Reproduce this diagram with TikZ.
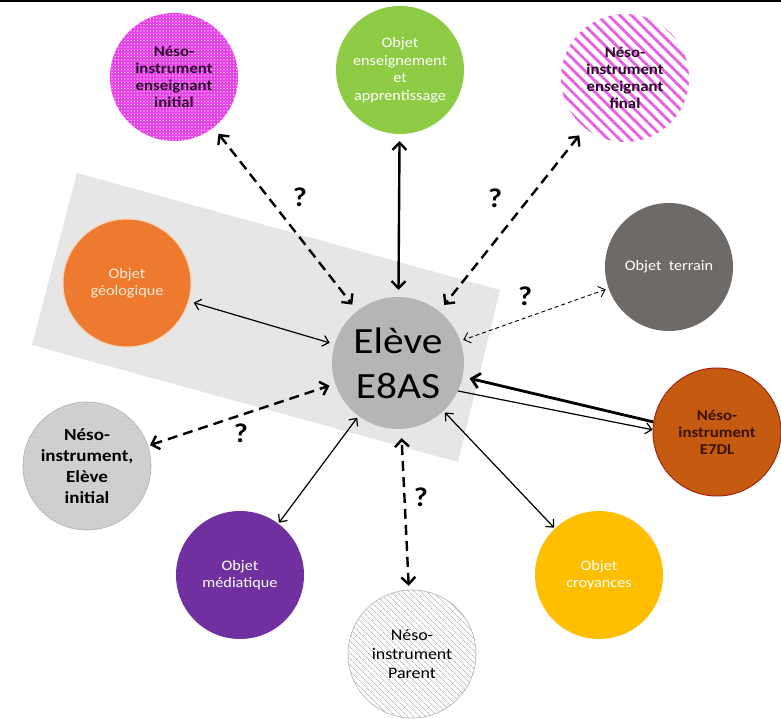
\documentclass[tikz,border=0pt]{standalone}
\usepackage{fontspec}
\setmainfont{Carlito}[FakeStretch=1.12]
\usetikzlibrary{arrows.meta,patterns.meta}
\definecolor{bandgray}{HTML}{E6E6E6}
\definecolor{cmag}{HTML}{E840E8}
\definecolor{cpink}{HTML}{E860E0}
\definecolor{cgreen}{HTML}{8FCC45}
\definecolor{corange}{HTML}{EE7A30}
\definecolor{corangeb}{HTML}{FAD2B0}
\definecolor{cgeotext}{HTML}{FDEBD8}
\definecolor{cterrain}{HTML}{6E6A68}
\definecolor{celeve}{HTML}{B7B5B4}
\definecolor{cinit}{HTML}{D8D8D8}
\definecolor{cedl}{HTML}{C55A11}
\definecolor{cedlb}{HTML}{A3260C}
\definecolor{cedltext}{HTML}{3A1200}
\definecolor{cpurple}{HTML}{7030A0}
\definecolor{cgold}{HTML}{FFBE00}
\definecolor{cdarkmag}{HTML}{2A0A2A}
\begin{document}
\begin{tikzpicture}[x=1pt,y=-1pt,
  circ/.style={circle,minimum size=128pt,inner sep=0pt,align=center,
    font=\fontsize{14.5}{17.5}\selectfont},
  thickdash/.style={line width=2.4pt,dash pattern=on 10pt off 6pt,
    {Straight Barb[length=7pt,width=14pt]}-{Straight Barb[length=7pt,width=14pt]}},
  thicksolid/.style={line width=2.4pt,
    {Straight Barb[length=7pt,width=14pt]}-{Straight Barb[length=7pt,width=14pt]}},
  thinsolid/.style={line width=1.2pt,
    {Straight Barb[length=6pt,width=11pt]}-{Straight Barb[length=6pt,width=11pt]}},
  thindash/.style={line width=0.9pt,dash pattern=on 4pt off 3pt,
    {Straight Barb[length=6pt,width=11pt]}-{Straight Barb[length=6pt,width=11pt]}},
  qm/.style={font=\fontsize{27}{30}\bfseries\selectfont,inner sep=0pt}]
\useasboundingbox (0,0) rectangle (781,719);
\fill[white] (0,0) rectangle (781,719);
\draw[line width=2pt] (0,1) -- (781,1);
% grey band
\fill[bandgray] (77,173) -- (500,290) -- (458,462) -- (32,345) -- cycle;
% circles
\node[circ,preaction={fill=cmag},pattern={Dots[distance=3.2pt,radius=0.75pt]},pattern color=white!80!cmag,
  font=\fontsize{15}{17}\bfseries\selectfont,text=cdarkmag] (ini) at (174,77)
  {Néso-\\instrument\\enseignant\\initial};
\node[circ,fill=cgreen,text=white] (ens) at (400,70)
  {Objet\\enseignement\\et\\apprentissage};
\node[circ,preaction={fill=white},pattern={Lines[angle=-45,distance=8pt,line width=2.8pt]},pattern color=cpink,
  font=\fontsize{15}{17}\bfseries\selectfont,text=cdarkmag] (fin) at (625,78)
  {Néso-\\instrument\\enseignant\\final};
\node[circ,fill=corange,draw=corangeb,line width=1pt,text=cgeotext] (geo) at (127,283)
  {Objet\\géologique};
\node[circ,fill=cterrain,text=white] (ter) at (669,267) {Objet~~terrain};
\node[circ,fill=celeve,minimum size=132pt,font=\fontsize{37}{45}\selectfont] (elv) at (398,363)
  {Elève\\E8AS};
\node[circ,preaction={fill=cinit},pattern={Dots[distance=2pt,radius=0.5pt]},pattern color=gray!75,
  draw=gray!60,line width=0.6pt,font=\fontsize{17}{21}\bfseries\selectfont] (eli) at (87,466)
  {Néso-\\instrument,\\Elève\\initial};
\node[circ,fill=cedl,draw=cedlb,line width=1pt,font=\fontsize{15}{17}\bfseries\selectfont,text=cedltext] (e7) at (717,432)
  {Néso-\\instrument\\E7DL};
\node[circ,fill=cpurple,text=white] (med) at (240,575) {Objet\\médiatique};
\node[circ,preaction={fill=white},pattern={Lines[angle=-45,distance=4pt,line width=0.6pt]},pattern color=gray!80,
  draw=gray!60,line width=0.6pt,font=\fontsize{16}{19}\selectfont] (par) at (412,654)
  {Néso-\\instrument\\Parent};
\node[circ,fill=cgold,text=white] (cro) at (599,575) {Objet\\croyances};
% connectors
\draw[thickdash,shorten <=8pt,shorten >=8pt] (ini) -- (elv);
\draw[thicksolid,shorten <=7pt,shorten >=7pt] (ens) -- (elv);
\draw[thickdash,shorten <=8pt,shorten >=8pt] (fin) -- (elv);
\draw[thinsolid,shorten <=5pt,shorten >=5pt] (geo) -- (elv);
\draw[thindash,shorten <=3pt,shorten >=3pt] (ter) -- (elv);
\draw[line width=2.8pt,-{Straight Barb[length=8pt,width=15pt]},shorten >=7pt] (e7.171) -- (elv.-12);
\draw[line width=1.2pt,-{Straight Barb[length=6pt,width=11pt]}] (elv.-25) -- (e7.178);
\draw[thickdash,shorten <=2pt,shorten >=6pt] (eli) -- (elv);
\draw[thinsolid,shorten <=1pt,shorten >=2pt] (med) -- (elv);
\draw[thickdash,shorten <=4pt,shorten >=9pt] (par) -- (elv);
\draw[thinsolid,shorten <=1pt,shorten >=2pt] (cro) -- (elv);
% question marks
\node[qm] (q1) at (300,197) {?};
\node[qm] (q2) at (495,198) {?};
\node[qm] (q3) at (525,296) {?};
\node[qm] (q4) at (241,433) {?};
\node[qm] (q5) at (421,497) {?};
\end{tikzpicture}
\end{document}
